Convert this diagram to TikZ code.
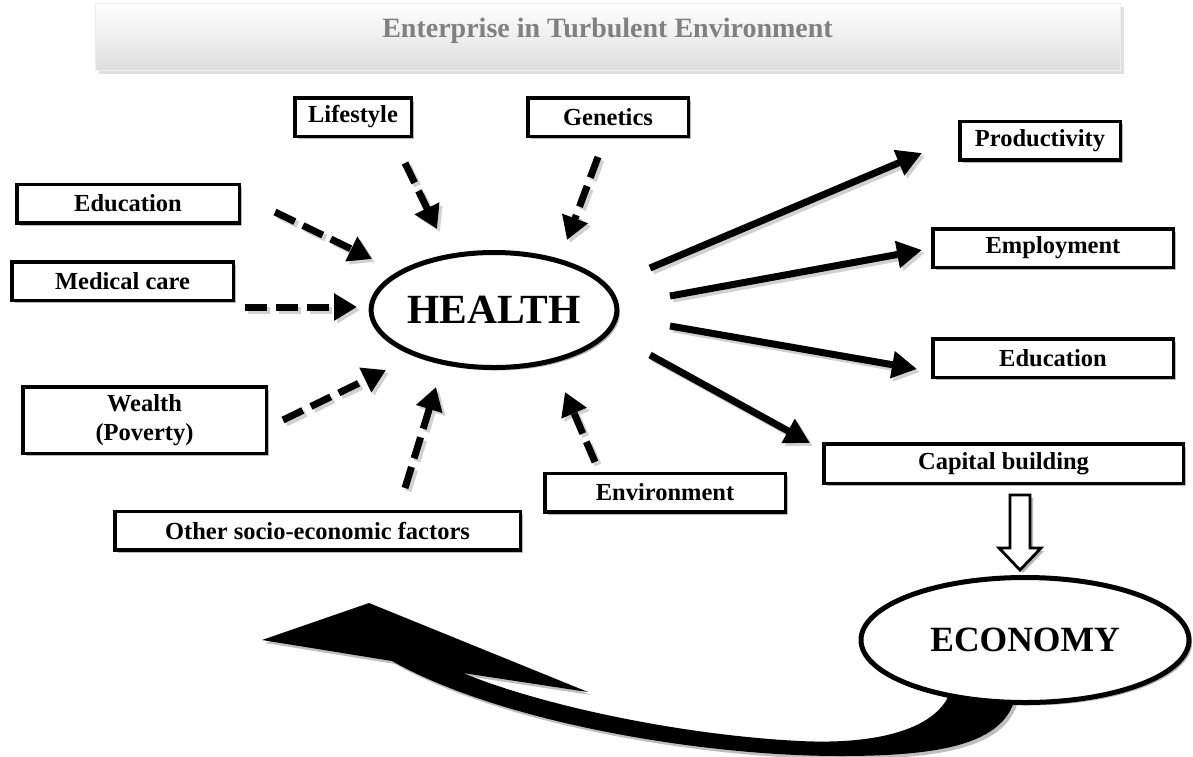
\documentclass[tikz,border=0pt]{standalone}
\usepackage{fontspec}
\setmainfont{Liberation Serif}
\usetikzlibrary{arrows.meta,shadows,shapes.geometric,calc}
\begin{document}
\begin{tikzpicture}[x=1pt,y=-1pt,
  shd/.style={drop shadow={shadow xshift=3pt, shadow yshift=-3pt, opacity=0.28, fill=black}},
  box/.style={draw=black, line width=3.5pt, fill=white, minimum height=38.5pt,
    font=\fontsize{24.5}{28.5}\selectfont\bfseries, inner sep=0pt, align=center, shd},
  oval/.style={ellipse, draw=black, line width=5pt, fill=white, inner sep=0pt, shd},
  dasharrow/.style={line width=7pt, dash pattern=on 22pt off 9pt,
    -{Triangle[length=23pt,width=26pt]}},
  solidarrow/.style={line width=7pt, -{Triangle[length=25pt,width=26pt]}},
  ghost/.style={draw=black!18, transform canvas={shift={(3pt,-3pt)}}},
]
\useasboundingbox (0,0) rectangle (1193,756);
\fill[white] (0,0) rectangle (1193,756);

% title bar
\fill[black!12] (99,7) rectangle (1124,74);
\node[minimum width=1025pt, minimum height=67pt, inner sep=0pt,
  top color=white, bottom color=black!13, draw=black!6]
  (title) at (607.5,36.5) {};
\node[text=black!50, font=\fontsize{28}{30}\selectfont\bfseries] (titletext) at (607.5,31) {Enterprise in Turbulent Environment};

% swoosh arrow from ECONOMY back to the left
\fill[black, drop shadow={shadow xshift=3pt, shadow yshift=-3pt, opacity=0.25, fill=black}]
  (262,640) -- (369,603) -- (588,692) -- (463,673)
  .. controls (540,705) and (680,735) .. (800,741)
  .. controls (880,745) and (948,728) .. (953,680)
  -- (1017,680)
  .. controls (1018,742) and (950,756) .. (840,756)
  .. controls (700,756) and (500,722) .. (392,661) -- cycle;

% central nodes
\node[oval, minimum width=237pt, minimum height=115pt,
  font=\fontsize{41.5}{44}\selectfont\bfseries] (health) at (494,310) {HEALTH};
\node[oval, minimum width=328pt, minimum height=125pt,
  font=\fontsize{35.5}{38}\selectfont\bfseries] (economy) at (1025,640) {ECONOMY};

% boxes
\node[box, minimum width=116.5pt] (lifestyle) at (353,117) {Lifestyle};
\node[box, minimum width=160.5pt] (genetics) at (608,117) {Genetics};
\node[box, minimum width=160.5pt] (productivity) at (1040,140.5) {Productivity};
\node[box, minimum width=222.5pt] (eduL) at (128,203.5) {Education};
\node[box, minimum width=240.5pt] (employment) at (1053,248) {Employment};
\node[box, minimum width=221.5pt] (medical) at (122.5,281) {Medical care};
\node[box, minimum width=240.5pt] (eduR) at (1053,358) {Education};
\node[box, minimum width=243.5pt, minimum height=66.5pt] (wealth) at (144.5,420) {Wealth\\(Poverty)};
\node[box, minimum width=359.5pt, minimum height=39.5pt] (capital) at (1003.5,463.5) {Capital building};
\node[box, minimum width=240.5pt] (environment) at (665,492.5) {Environment};
\node[box, minimum width=405.5pt] (other) at (317.5,530.5) {Other socio-economic factors};

% connector end points
\coordinate (ls1) at (405,163);  \coordinate (ls2) at (437,229);
\coordinate (ge1) at (598,157);  \coordinate (ge2) at (567,240);
\coordinate (el1) at (275,212);  \coordinate (el2) at (372,259);
\coordinate (mc1) at (245,307);  \coordinate (mc2) at (357,307);
\coordinate (we1) at (283,420);  \coordinate (we2) at (386,370);
\coordinate (ot1) at (405,488);  \coordinate (ot2) at (436,387);
\coordinate (en1) at (595,462);  \coordinate (en2) at (565,392);
\coordinate (pr1) at (650,268);  \coordinate (pr2) at (922,153);
\coordinate (em1) at (670,296);  \coordinate (em2) at (922,250);
\coordinate (er1) at (670,326);  \coordinate (er2) at (917,369);
\coordinate (cb1) at (650,355);  \coordinate (cb2) at (810,443);

% shadows of arrows
\foreach \a/\b in {ls1/ls2,ge1/ge2,el1/el2,mc1/mc2,we1/we2,ot1/ot2,en1/en2}
  \draw[dasharrow, ghost] (\a) -- (\b);
\foreach \a/\b in {pr1/pr2,em1/em2,er1/er2,cb1/cb2}
  \draw[solidarrow, ghost] (\a) -- (\b);

% influences on health (dashed)
\draw[dasharrow] (ls1) -- (ls2);
\draw[dasharrow] (ge1) -- (ge2);
\draw[dasharrow] (el1) -- (el2);
\draw[dasharrow] (mc1) -- (mc2);
\draw[dasharrow] (we1) -- (we2);
\draw[dasharrow] (ot1) -- (ot2);
\draw[dasharrow] (en1) -- (en2);

% effects of health (solid)
\draw[solidarrow] (pr1) -- (pr2);
\draw[solidarrow] (em1) -- (em2);
\draw[solidarrow] (er1) -- (er2);
\draw[solidarrow] (cb1) -- (cb2);

% hollow arrow from capital building to economy
\coordinate (hb) at (1020,495);
\draw[line width=2.8pt, fill=white, line join=miter, shd]
  ($(hb)+(-10,0)$) -- ++(0,53) -- ++(-11,0) -- ++(21,22) -- ++(21,-22)
  -- ++(-11,0) -- ++(0,-53) -- cycle;
\end{tikzpicture}
\end{document}
